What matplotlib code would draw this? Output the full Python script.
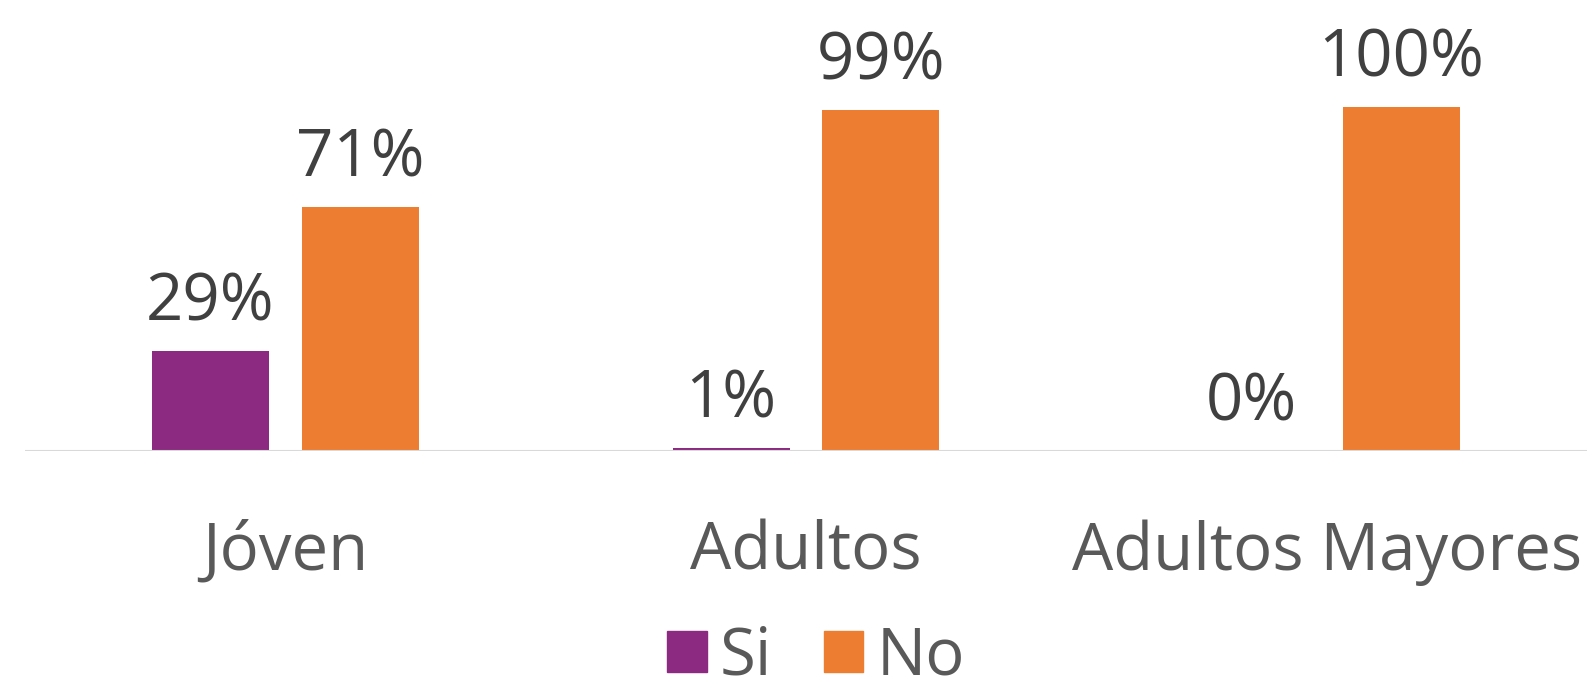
import numpy as np
import matplotlib.pyplot as plt
import matplotlib.transforms as mtransforms
from matplotlib.patches import Patch

# data
categories = ["Jóven", "Adultos", "Adultos Mayores"]
si_values = [29, 1, 0]
no_values = [71, 99, 100]
series_names = ["Si", "No"]

purple = "#8B2A80"
orange = "#ED7D31"

plt.rcParams['font.family'] = ['Open Sans', 'DejaVu Sans']

fig = plt.figure(figsize=(15.94, 6.89), dpi=100)
ax = fig.add_axes([25/1594, 238/689, 1562/1594, 412.8/689])

x = np.arange(len(categories))
w = 0.225
off = 0.14375
b1 = ax.bar(x - off, si_values, w, color=purple)
b2 = ax.bar(x + off, no_values, w, color=orange)

for bars, vals in ((b1, si_values), (b2, no_values)):
    for rect, v in zip(bars, vals):
        ax.annotate(f"{v}%", (rect.get_x() + rect.get_width()/2, rect.get_height()),
                    xytext=(0, 22), textcoords="offset points",
                    ha="center", va="baseline", fontsize=47, color="#404040")

ax.set_xlim(-0.5, len(categories) - 0.5)
ax.set_ylim(0, 120)
ax.axhline(0, color="#D9D9D9", lw=1.5)
for s in ax.spines.values():
    s.set_visible(False)
ax.set_xticks([])
ax.set_yticks([])

trans = mtransforms.blended_transform_factory(ax.transData, ax.transAxes)
for xi, c in zip(x, categories):
    ax.text(xi, -119/412.8, c, transform=trans, ha="center", va="baseline",
            fontsize=47, color="#595959")

handles = [Patch(color=purple), Patch(color=orange)]
fig.legend(handles, series_names, loc="center", bbox_to_anchor=(0.512, 0.046),
           ncol=2, frameon=False, fontsize=47, handlelength=0.6, handleheight=0.6,
           handletextpad=0.2, columnspacing=0.8, labelcolor="#595959",
           borderpad=0, borderaxespad=0)

fig.savefig("out.png", dpi=100, facecolor="white")
